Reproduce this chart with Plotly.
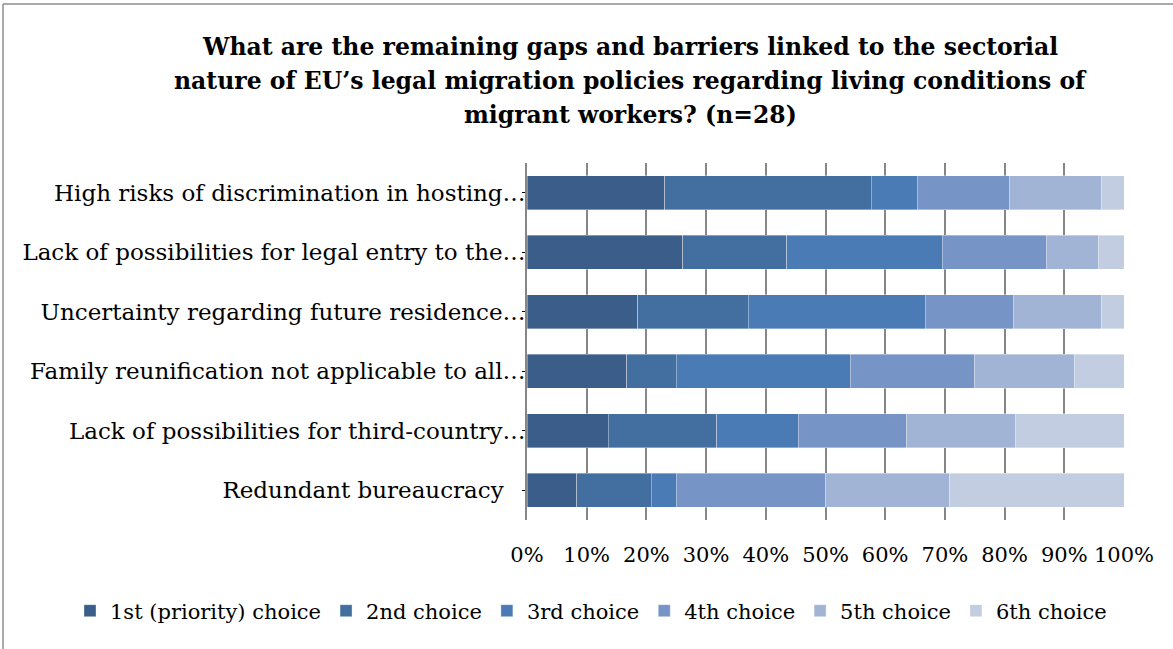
import plotly.graph_objects as go

# Survey responses: counts of respondents ranking each barrier by choice position
categories = [
    "High risks of discrimination in hosting…",
    "Lack of possibilities for legal entry to the…",
    "Uncertainty regarding future residence…",
    "Family reunification not applicable to all…",
    "Lack of possibilities for third-country…",
    "Redundant bureaucracy\u00a0\u00a0\u00a0",
]
series_names = [
    "1st (priority) choice",
    "2nd choice",
    "3rd choice",
    "4th choice",
    "5th choice",
    "6th choice",
]
choice_1 = [6, 6, 5, 4, 3, 2]
choice_2 = [9, 4, 5, 2, 4, 3]
choice_3 = [2, 6, 8, 7, 3, 1]
choice_4 = [4, 4, 4, 5, 4, 6]
choice_5 = [4, 2, 4, 4, 4, 5]
choice_6 = [1, 1, 1, 2, 4, 7]
series_values = [choice_1, choice_2, choice_3, choice_4, choice_5, choice_6]

tick_vals = [0, 10, 20, 30, 40, 50, 60, 70, 80, 90, 100]
tick_text = ["0%", "10%", "20%", "30%", "40%", "50%", "60%", "70%", "80%", "90%", "100%"]

title_lines = [
    "What are the remaining gaps and barriers linked to the sectorial",
    "nature of EU’s legal migration policies regarding living conditions of",
    "migrant workers? (n=28)",
]

colors = ["#3a5d89", "#426ea0", "#4a7bb4", "#7695c6", "#a2b4d6", "#c3cde2"]

W, H = 1173, 649
L, R, T, B = 527, 1124, 163, 520  # plot area in pixels
SERIF = "DejaVu Serif, serif"

fig = go.Figure()
for name, vals, col in zip(series_names, series_values, colors):
    fig.add_trace(go.Bar(
        y=categories, x=vals, name=name, orientation="h",
        marker=dict(color=col, line=dict(color="rgba(255,255,255,0.45)", width=0.8)),
    ))


def px_x(px):
    return (px - L) / (R - L)


def px_y(py):
    return (B - py) / (B - T)


title_annotations = [
    dict(text=f"<b>{line}</b>", xref="paper", yref="paper",
         x=px_x(630), y=px_y(47 + 34 * i), xanchor="center", yanchor="middle",
         showarrow=False, font=dict(family=SERIF, size=23.5, color="#000000"))
    for i, line in enumerate(title_lines)
]

fig.update_layout(
    width=W, height=H,
    margin=dict(l=L, r=W - R, t=T, b=H - B, autoexpand=False),
    barmode="stack", barnorm="percent", bargap=0.43,
    plot_bgcolor="white", paper_bgcolor="white",
    font=dict(family=SERIF, size=23, color="#000000"),
    showlegend=True,
    legend=dict(
        orientation="h", xref="paper", yref="paper",
        x=px_x(70), xanchor="left", y=px_y(611), yanchor="middle",
        font=dict(size=21), traceorder="normal",
        itemwidth=30, tracegroupgap=0,
    ),
    xaxis=dict(
        range=[0, 100], tickvals=tick_vals, ticktext=tick_text,
        showgrid=True, gridcolor="#868686", gridwidth=1.6,
        zeroline=False, showline=False, ticks="",
        ticklabelstandoff=20, tickfont=dict(size=21),
    ),
    yaxis=dict(
        autorange="reversed", showgrid=False,
        showline=True, linecolor="#868686", linewidth=1.6,
        ticks="outside", ticklen=3, tickcolor="#000000", tickwidth=1,
        ticklabelstandoff=-8, tickfont=dict(size=23),
    ),
    annotations=title_annotations,
    shapes=[
        # chart frame
        dict(type="line", xref="paper", yref="paper",
             x0=px_x(3), x1=px_x(1200), y0=px_y(4), y1=px_y(4),
             line=dict(color="#8c8c8c", width=1.5)),
        dict(type="line", xref="paper", yref="paper",
             x0=px_x(3), x1=px_x(3), y0=px_y(4), y1=px_y(660),
             line=dict(color="#8c8c8c", width=1.5)),
    ],
)

fig.write_html("out.html")
